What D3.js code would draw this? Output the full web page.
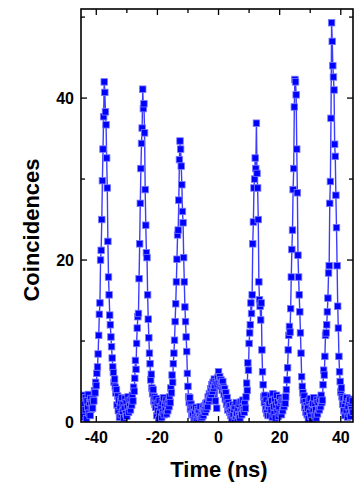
<!DOCTYPE html>
<html><head><meta charset="utf-8">
<script src="https://cdn.jsdelivr.net/npm/d3@7/dist/d3.min.js"></script>
<style>html,body{margin:0;padding:0;background:#fff;} svg{display:block}</style>
</head><body>
<svg id="chart" width="356" height="482"></svg>
<script>
// ---- data ----
const timeStart = -45;   // ns, first histogram bin
const binWidth = 0.2;    // ns per bin
const counts = [
  1.2, 2.8, 0.6, 1.9, 3.3, 0.9, 2.2, 1.5, 3.0, 0.4, 2.6, 1.8, 3.4, 1.1, 2.4, 0.8, 2.9, 1.6,
  2.4, 1.7, 2.9, 2.6, 3.9, 3.6, 4.9, 4.5, 6.0, 6.8, 8.4, 10.7, 13.3, 14.7, 20.0, 21.2, 25.0, 29.8, 33.7, 37.7,
  42.0,
  40.7, 38.3, 36.7, 32.6, 28.9, 22.3, 17.9, 15.7, 13.2, 12.0, 10.5, 9.3, 7.9, 6.8, 6.1, 4.9, 5.3, 4.3, 3.6, 4.0,
  2.1, 3.2, 1.4, 2.7, 0.6, 1.9, 2.5, 0.9, 3.0, 1.3, 2.2, 0.5, 1.7, 2.9, 1.0, 2.4, 0.7, 1.8, 3.1, 1.2, 2.6, 2.0,
  1.5, 2.8, 2.1, 3.3, 2.6, 4.3, 3.8, 5.4, 7.6, 6.5, 9.7, 11.6, 13.0, 13.4, 17.7, 22.0, 27.0, 31.3, 34.4, 36.3,
  41.1,
  38.7, 39.3, 35.7, 28.7, 24.3, 20.9, 20.3, 15.7, 12.7, 10.4, 8.5, 7.2, 5.2, 5.9, 4.2, 3.5, 4.0, 2.6, 3.1, 2.2,
  1.8, 2.9, 0.8, 2.3, 1.4, 0.3, 2.6, 1.1, 0.2, 1.9, 0.6, 2.4, 1.2, 3.0, 0.9, 2.1, 1.5, 2.7, 1.0, 2.2,
  1.4, 2.5, 1.9, 3.1, 2.4, 4.2, 3.6, 5.8, 4.9, 7.2, 8.5, 10.1, 12.4, 14.6, 17.3, 20.1, 23.1, 23.7, 27.4, 32.4,
  34.7,
  33.7, 31.6, 29.3, 26.0, 24.6, 20.3, 17.3, 14.2, 12.4, 10.5, 8.7, 6.0, 4.4, 3.1, 2.4, 3.0, 1.6, 2.2, 0.9, 1.8,
  0.9, 1.6, 0.3, 1.2, 0.5, 1.8, 0.2, 1.0, 1.5, 0.4, 1.3, 0.7, 1.9, 0.3, 1.1, 0.6, 1.7, 0.8, 1.4, 2.0, 1.2, 2.3,
  1.6, 2.4, 1.9, 3.1, 2.6, 3.5, 2.9, 4.1, 3.4, 4.6, 3.8, 4.9, 4.2, 5.3, 4.5, 2.6, 5.0, 1.7, 4.7, 5.5, 6.2,
  4.9, 5.6, 4.4, 5.2, 4.8, 3.9, 5.0, 4.3, 3.4, 4.1, 2.8, 3.6, 2.2, 3.0, 1.5, 2.4, 1.8, 1.2, 2.0, 0.8,
  1.4, 0.4, 2.1, 0.9, 1.6, 0.2, 1.9, 0.7, 2.4, 1.1, 0.3, 1.7, 0.8, 2.2, 0.5, 1.3, 2.5, 0.9, 1.8, 2.7, 1.5,
  1.2, 2.3, 1.7, 3.1, 4.8, 3.9, 7.3, 6.4, 9.7, 11.0, 12.0, 14.7, 13.4, 15.7, 22.0, 24.7, 28.9, 30.0, 32.6, 31.3,
  36.9,
  30.7, 28.9, 25.0, 17.3, 15.1, 14.3, 12.6, 14.7, 8.9, 6.2, 4.6, 3.1, 2.4, 3.3, 1.6, 2.7, 1.1, 2.0, 0.8, 1.9,
  2.3, 0.8, 3.2, 1.5, 2.6, 0.6, 3.5, 1.9, 1.0, 2.8, 0.5, 2.1, 3.3, 1.3, 2.5, 0.7, 1.8, 3.0, 1.1, 2.4, 0.9, 2.7,
  1.4, 2.6, 1.9, 3.0, 2.3, 3.1, 4.0, 5.2, 6.7, 8.9, 10.7, 11.8, 11.1, 14.0, 17.9, 21.3, 23.7, 28.7, 31.3, 38.9,
  42.3,
  42.0, 40.4, 33.7, 28.3, 20.6, 17.9, 15.7, 13.6, 11.0, 8.5, 5.6, 4.4, 3.6, 2.7, 3.2, 1.8, 2.5, 1.2, 2.0, 0.9,
  1.7, 0.4, 2.6, 1.2, 2.9, 0.7, 1.9, 0.2, 2.3, 1.4, 3.0, 0.8, 2.1, 1.5, 0.5, 2.7, 1.0, 2.4, 1.6,
  1.5, 2.8, 1.9, 3.3, 2.4, 2.7, 4.6, 6.4, 5.8, 8.1, 10.7, 11.0, 12.0, 13.6, 15.3, 18.4, 19.3, 27.0, 29.7, 37.5,
  49.3,
  47.0, 44.0, 42.6, 41.0, 34.3, 32.8, 28.0, 24.0, 19.3, 14.3, 11.6, 8.1, 6.2, 5.0, 3.7, 4.2, 3.1, 2.2, 2.9, 1.4,
  2.2, 0.8, 2.7, 1.4, 3.0, 0.6, 1.9, 2.5, 1.1, 2.8, 0.7, 2.0, 1.5, 2.6, 1.2
];
const xDomain = [-45, 44];
const yDomain = [0, 51];
const xMajorTicks = [-40, -20, 0, 20, 40];
const xMinorTicks = [-30, -10, 10, 30];
const yMajorTicks = [0, 20, 40];
const yMinorTicks = [10, 30, 50];
const xTitle = "Time (ns)";
const yTitle = "Coincidences";

// ---- layout ----
const W = 356, H = 482;
const m = {left: 81, right: 3, top: 9, bottom: 60};
const svg = d3.select("#chart");
const x = d3.scaleLinear().domain(xDomain).range([m.left, W - m.right]);
const y = d3.scaleLinear().domain(yDomain).range([H - m.bottom, m.top]);
const pts = counts.map((c, i) => ({t: timeStart + i * binWidth, c}));

const font = "'Liberation Sans', Arial, Helvetica, sans-serif";

svg.append("defs").append("clipPath").attr("id", "clip")
  .append("rect").attr("x", m.left).attr("y", m.top)
  .attr("width", W - m.right - m.left).attr("height", H - m.bottom - m.top);

const plot = svg.append("g").attr("clip-path", "url(#clip)");
plot.append("path").datum(pts)
  .attr("fill", "none").attr("stroke", "#3c3cff").attr("stroke-width", 1.4)
  .attr("d", d3.line().x(d => x(d.t)).y(d => y(d.c)));
const s = 6.5;
plot.selectAll("rect.pt").data(pts).join("rect").attr("class", "pt")
  .attr("x", d => x(d.t) - s / 2).attr("y", d => y(d.c) - s / 2)
  .attr("width", s).attr("height", s)
  .attr("fill", "#0000ff").attr("stroke", "#7a7aff").attr("stroke-width", 0.8);

// frame
const x0 = x.range()[0], x1 = x.range()[1], y0 = y.range()[0], y1 = y.range()[1];
svg.append("rect").attr("x", x0).attr("y", y1).attr("width", x1 - x0).attr("height", y0 - y1)
  .attr("fill", "none").attr("stroke", "#000").attr("stroke-width", 1.6);

// ticks (inward, mirrored)
const tk = svg.append("g").attr("stroke", "#000").attr("stroke-width", 1.3);
function xt(vals, len) {
  vals.forEach(v => {
    tk.append("line").attr("x1", x(v)).attr("x2", x(v)).attr("y1", y0).attr("y2", y0 - len);
    tk.append("line").attr("x1", x(v)).attr("x2", x(v)).attr("y1", y1).attr("y2", y1 + len);
  });
}
function yt(vals, len) {
  vals.forEach(v => {
    tk.append("line").attr("y1", y(v)).attr("y2", y(v)).attr("x1", x0).attr("x2", x0 + len);
    tk.append("line").attr("y1", y(v)).attr("y2", y(v)).attr("x1", x1).attr("x2", x1 - len);
  });
}
xt(xMajorTicks, 6); xt(xMinorTicks, 4);
yt(yMajorTicks.filter(v => v > 0), 6); yt(yMinorTicks, 4);

// tick labels
svg.append("g").selectAll("text").data(xMajorTicks).join("text")
  .attr("x", d => x(d)).attr("y", y0 + 21)
  .attr("text-anchor", "middle").attr("font-family", font).attr("font-weight", "bold")
  .attr("font-size", 16).text(d => d);
svg.append("g").selectAll("text").data(yMajorTicks).join("text")
  .attr("x", x0 - 7).attr("y", d => y(d)).attr("dy", "0.35em")
  .attr("text-anchor", "end").attr("font-family", font).attr("font-weight", "bold")
  .attr("font-size", 16).text(d => d);

// titles
svg.append("text").attr("x", 219).attr("y", 477).attr("text-anchor", "middle")
  .attr("font-family", font).attr("font-weight", "bold").attr("font-size", 22).text(xTitle);
svg.append("text").attr("transform", "translate(39,230) rotate(-90)").attr("text-anchor", "middle")
  .attr("font-family", font).attr("font-weight", "bold").attr("font-size", 22).text(yTitle);
</script>
</body></html>
